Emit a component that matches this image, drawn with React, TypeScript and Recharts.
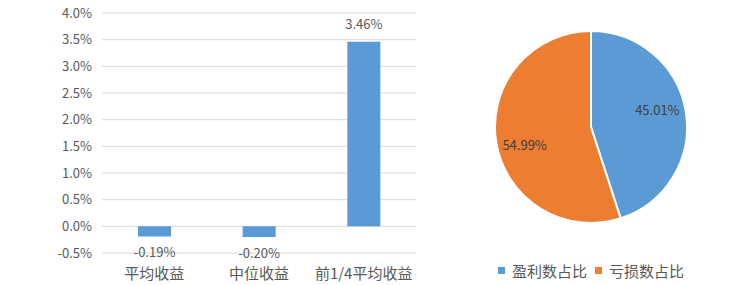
import React from 'react';
import { BarChart, Bar, XAxis, YAxis, CartesianGrid, LabelList, PieChart, Pie, Cell, Legend } from 'recharts';

const categories = ['平均收益', '中位收益', '前1/4平均收益'];
const returns = [-0.19, -0.2, 3.46];
const yTicks = [-0.5, 0, 0.5, 1, 1.5, 2, 2.5, 3, 3.5, 4];
const pieNames = ['盈利数占比', '亏损数占比'];
const pieValues = [45.01, 54.99];
const pieColors = ['#5B9BD5', '#ED7D31'];

const barData = categories.map((c, i) => ({ name: c, value: returns[i] }));
const pieData = pieNames.map((n, i) => ({ name: n, value: pieValues[i] }));

const FONT = '"Noto Sans CJK SC", "Noto Sans", sans-serif';
const TEXT = '#595959';

const BarLabel = (props: any) => {
  const { x, y, width, height, value } = props;
  const top = Math.min(y, y + height);
  const bottom = Math.max(y, y + height);
  const cx = x + width / 2;
  const ty = value >= 0 ? top - 18 : bottom + 15;
  return (
    <text x={cx} y={ty} textAnchor="middle" dominantBaseline="central" fill={TEXT} fontSize={13} fontFamily={FONT}>
      {value.toFixed(2) + '%'}
    </text>
  );
};

const RAD = Math.PI / 180;
const PieLabel = (props: any) => {
  const { cx, cy, midAngle, outerRadius, value } = props;
  const r = outerRadius * 0.7;
  const c = Math.cos(-midAngle * RAD);
  const x = cx + r * c;
  const y = cy + r * Math.sin(-midAngle * RAD) - 7 * c;
  return (
    <text x={x} y={y} textAnchor="middle" dominantBaseline="central" fill="#404040" fontSize={13} fontFamily={FONT}>
      {value.toFixed(2) + '%'}
    </text>
  );
};

const LegendContent = () => (
  <div style={{ display: 'flex', justifyContent: 'center', alignItems: 'center', fontFamily: FONT, fontSize: 15, color: TEXT }}>
    {pieData.map((d, i) => (
      <div key={d.name} style={{ display: 'flex', alignItems: 'center', marginRight: i === 0 ? 8 : 0 }}>
        <span style={{ display: 'inline-block', width: 7, height: 7, background: pieColors[i], marginRight: 7 }} />
        <span>{d.name}</span>
      </div>
    ))}
  </div>
);

export default function App() {
  return (
    <div style={{ position: 'absolute', left: 0, top: 0, width: 748, height: 285, background: '#fff' }}>
      <div style={{ position: 'absolute', left: 0, top: 0 }}>
        <BarChart width={440} height={285} data={barData} margin={{ top: 13, right: 24, bottom: 0, left: 0 }}>
          <CartesianGrid vertical={false} stroke="#D9D9D9" />
          <XAxis
            dataKey="name"
            axisLine={false}
            tickLine={false}
            tickSize={0}
            tickMargin={15}
            height={32}
            tick={{ fill: TEXT, fontSize: 15, fontFamily: FONT }}
            interval={0}
          />
          <YAxis
            domain={[-0.5, 4]}
            ticks={yTicks}
            axisLine={false}
            tickLine={false}
            tickSize={0}
            tickMargin={10}
            width={102}
            tickFormatter={(v: number) => v.toFixed(1) + '%'}
            tick={{ fill: TEXT, fontSize: 13, fontFamily: FONT }}
          />
          <Bar dataKey="value" fill="#5B9BD5" barSize={33} isAnimationActive={false}>
            <LabelList dataKey="value" content={BarLabel} />
          </Bar>
        </BarChart>
      </div>
      <div style={{ position: 'absolute', left: 437, top: 0 }}>
        <PieChart width={308} height={285} margin={{ top: 0, right: 0, bottom: 0, left: 0 }}>
          <Pie
            data={pieData}
            dataKey="value"
            nameKey="name"
            cx={154}
            cy={127}
            outerRadius={96}
            startAngle={90}
            endAngle={-270}
            stroke="#FFFFFF"
            strokeWidth={2}
            label={PieLabel}
            labelLine={false}
            isAnimationActive={false}
          >
            {pieData.map((d, i) => (
              <Cell key={d.name} fill={pieColors[i]} />
            ))}
          </Pie>
          <Legend content={LegendContent} wrapperStyle={{ position: 'absolute', top: 260, left: 0, width: 308 }} />
        </PieChart>
      </div>
    </div>
  );
}
